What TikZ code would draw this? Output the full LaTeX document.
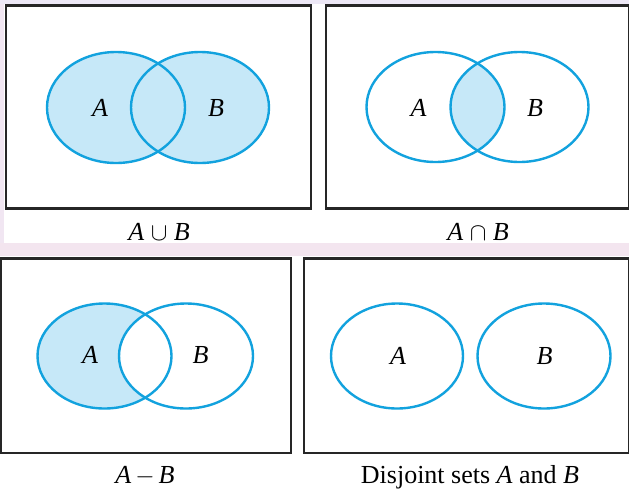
\documentclass[tikz,border=0pt]{standalone}
\usepackage{fontspec}
\setmainfont{Liberation Serif}
\definecolor{setline}{HTML}{12A2DE}
\definecolor{setfill}{HTML}{C6E8F8}
\definecolor{boxline}{HTML}{262626}
\definecolor{lav}{HTML}{EDE8F6}
\definecolor{lavl}{HTML}{F1E6F2}
\definecolor{pinkband}{HTML}{F3E5EF}
\tikzset{
  frame/.style={draw=boxline, line width=2.2pt},
  setoutline/.style={draw=setline, line width=2.4pt},
  setshade/.style={fill=setfill},
  lbl/.style={anchor=base, inner sep=0pt, font=\fontsize{26}{30}\selectfont\itshape},
  captext/.style={anchor=base, inner sep=0pt, font=\fontsize{26}{30}\selectfont}
}
\begin{document}
\begin{tikzpicture}[x=1pt,y=-1pt]
\useasboundingbox (0,0) rectangle (629,488);
% background bands
\fill[white] (0,0) rectangle (629,488);
\fill[lav] (0,0) rectangle (629,4);
\fill[lavl] (0,4) rectangle (4,243);
\fill[pinkband] (0,243) rectangle (629,256);

% ---------- Top-left: union ----------
\fill[setshade] (116,107.5) ellipse [x radius=69, y radius=55.5];
\fill[setshade] (200,107.5) ellipse [x radius=69, y radius=55.5];
\draw[setoutline] (116,107.5) ellipse [x radius=69, y radius=55.5];
\draw[setoutline] (200,107.5) ellipse [x radius=69, y radius=55.5];
\draw[frame] (6,5.5) rectangle (311,208.5);
\node[lbl] (tlA) at (100,116) {A};
\node[lbl] (tlB) at (216,116) {B};
\node[captext] (tlcap) at (159,240) {\textit{A}\hspace{0.25em}$\cup$\hspace{0.25em}\textit{B}};

% ---------- Top-right: intersection ----------
\begin{scope}
  \clip (435.5,107) ellipse [x radius=69, y radius=55];
  \fill[setshade] (519.5,107) ellipse [x radius=69, y radius=55];
\end{scope}
\draw[setoutline] (435.5,107) ellipse [x radius=69, y radius=55];
\draw[setoutline] (519.5,107) ellipse [x radius=69, y radius=55];
\draw[frame] (326,5.5) rectangle (629.5,208.5);
\node[lbl] (trA) at (418.5,116) {A};
\node[lbl] (trB) at (535,116) {B};
\node[captext] (trcap) at (478,240) {\textit{A}\hspace{0.25em}$\cap$\hspace{0.25em}\textit{B}};

% ---------- Bottom-left: difference ----------
\fill[setshade] (104.5,356) ellipse [x radius=67, y radius=52.5];
\begin{scope}
  \clip (104.5,356) ellipse [x radius=67, y radius=52.5];
  \fill[white] (186,356) ellipse [x radius=67, y radius=52.5];
\end{scope}
\draw[setoutline] (104.5,356) ellipse [x radius=67, y radius=52.5];
\draw[setoutline] (186,356) ellipse [x radius=67, y radius=52.5];
\draw[frame] (1,258.5) rectangle (291,453);
\node[lbl] (blA) at (90,363.5) {A};
\node[lbl] (blB) at (200.5,363.5) {B};
\node[captext] (blcap) at (145,483) {\textit{A}\hspace{0.15em}$-$\hspace{0.15em}\textit{B}};

% ---------- Bottom-right: disjoint ----------
\draw[setoutline] (397,356) ellipse [x radius=66, y radius=52.5];
\draw[setoutline] (544,356) ellipse [x radius=66.5, y radius=52.5];
\draw[frame] (304,258.5) rectangle (629.5,453);
\node[lbl] (brA) at (398,364) {A};
\node[lbl] (brB) at (544.5,364) {B};
\node[captext] (brcap) at (470,483) {Disjoint sets \textit{A} and \textit{B}};
\end{tikzpicture}
\end{document}
